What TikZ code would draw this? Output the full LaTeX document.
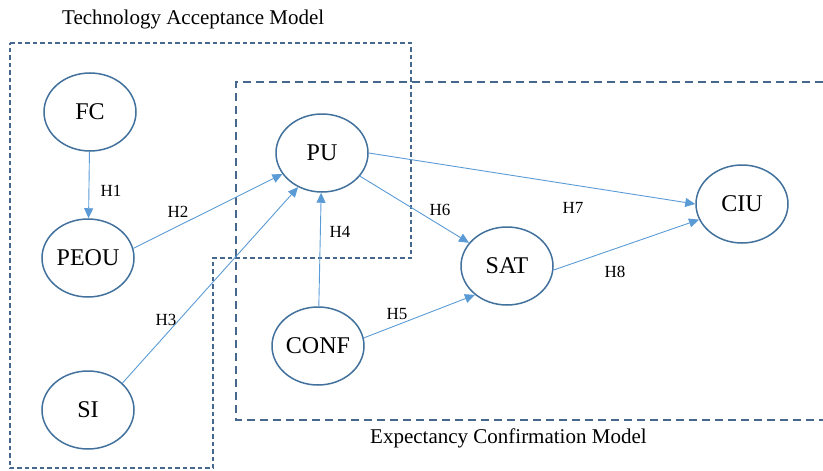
\documentclass[tikz,border=0pt]{standalone}
\usepackage{fontspec}
\setmainfont{Liberation Serif}
\usetikzlibrary{shapes.geometric}
\usetikzlibrary{arrows.meta}
\definecolor{myblue}{HTML}{41719C}
\definecolor{mylink}{HTML}{5B9BD5}
\definecolor{mydash}{HTML}{46678E}
\tikzset{
  construct/.style={ellipse, draw=myblue, line width=1.5pt, fill=white, minimum width=92pt, minimum height=78pt, inner sep=0pt, font=\fontsize{24}{24}\selectfont},
  link/.style={draw=mylink, line width=0.9pt, -{Triangle[length=10pt,width=9pt]}},
  hyp/.style={font=\fontsize{17}{17}\selectfont, inner sep=0pt},
  title/.style={font=\fontsize{21}{21}\selectfont, inner sep=0pt},
}

\begin{document}
\begin{tikzpicture}[x=1pt,y=-1pt]
  \useasboundingbox (0,0) rectangle (823,471);

  % model boundaries
  \draw[mydash, line width=1.5pt, dash pattern=on 4.5pt off 3pt] (10,43) -- (411,43) -- (411,258) -- (213,258) -- (213,468) -- (10,468) -- cycle;
  \draw[mydash, line width=1.5pt, dash pattern=on 8pt off 5pt] (823,82) -- (236,82) -- (236,420) -- (823,420);

  \node[title, anchor=base west] (tam) at (62,24) {Technology Acceptance Model};
  \node[title, anchor=base west] (ecm) at (370,443) {Expectancy Confirmation Model};

  \node[construct] (FC) at (90,112) {FC};
  \node[construct] (PEOU) at (88,258) {PEOU};
  \node[construct] (SI) at (88,410) {SI};
  \node[construct] (PU) at (322,153) {PU};
  \node[construct] (CONF) at (318,346) {CONF};
  \node[construct] (SAT) at (507,266) {SAT};
  \node[construct] (CIU) at (742,204) {CIU};

  \draw[link] (FC) -- (PEOU);
  \draw[link] (PEOU.12) -- (PU.208);
  \draw[link] (SI.38) -- (PU.235);
  \draw[link] (CONF) -- (PU);
  \draw[link] (CONF.10) -- (SAT.222);
  \draw[link] (PU) -- (SAT);
  \draw[link] (PU.east) -- (CIU.west);
  \draw[link] (SAT.-5) -- (CIU.200);

  \foreach \h/\px/\py in {H1/111/191, H2/178/212, H3/166/320, H4/340/232, H5/397/314, H6/440/210, H7/573/208, H8/615/272} {
    \node[hyp] (\h) at (\px,\py) {\h};
  }
\end{tikzpicture}
\end{document}
